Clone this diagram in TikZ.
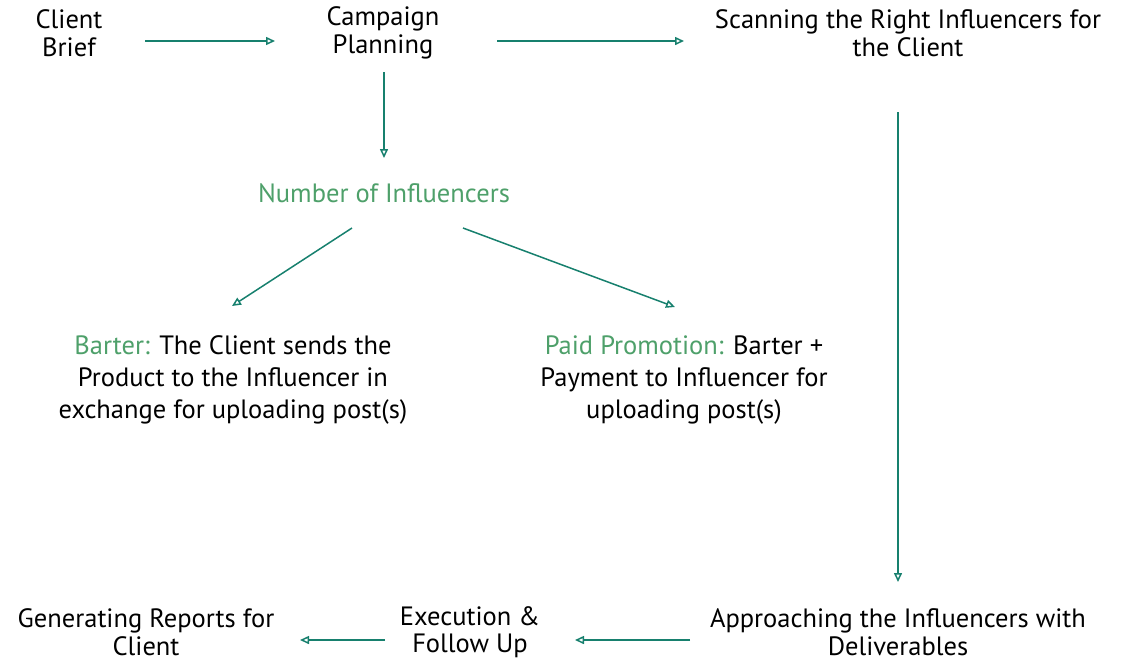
\documentclass[tikz,border=0pt]{standalone}
\usepackage{fontspec}
\setmainfont{PT Sans}
\usetikzlibrary{arrows.meta,calc}
\definecolor{arrowc}{HTML}{17806E}
\definecolor{greent}{HTML}{4EA06A}
\tikzset{
  lbl/.style={align=center, inner sep=0pt, font=\fontsize{26.5}{27.5}\selectfont, text=black},
  lblwide/.style={lbl, font=\fontsize{26.5}{32}\selectfont},
  conn/.style={draw=arrowc, line width=1.5pt, -{Triangle[open, length=9pt, width=8pt]}},
}
\begin{document}
\begin{tikzpicture}[x=1pt,y=-1pt]
\useasboundingbox (0,0) rectangle (1122,665);
\node[lbl] (cb) at (69,33) {Client\\Brief};
\node[lbl] (cp) at (383,33) {Campaign\\Planning};
\node[lbl] (sc) at (908,33) {Scanning the Right Influencers for\\the Client};
\node[lbl, text=greent] (ni) at (384,193) {Number of Influencers};
\node[lblwide] (ba) at (233,380) {\textcolor{greent}{Barter:} The Client sends the\\Product to the Influencer in\\exchange for uploading post(s)};
\node[lblwide] (pp) at (684,380) {\textcolor{greent}{Paid Promotion:} Barter +\\Payment to Influencer for\\uploading post(s)};
\node[lbl] (ap) at (898,632) {Approaching the Influencers with\\Deliverables};
\node[lbl] (ex) at (470,632) {Execution \&\\Follow Up};
\node[lbl] (ge) at (146,632) {Generating Reports for\\Client};

\draw[conn] ($(cb)+(76,8)$) -- ($(cp)+(-108,8)$);
\draw[conn] ($(cp)+(114,8)$) -- ($(sc)+(-224,8)$);
\draw[conn] ($(cp)+(1,39)$) -- ($(ni)+(0,-35)$);
\draw[conn] ($(ni)+(-32,35)$) -- ($(ba)+(-1,-74)$);
\draw[conn] ($(ni)+(79,35)$) -- ($(pp)+(-9,-73)$);
\draw[conn] ($(sc)+(-10,79)$) -- ($(ap)+(0,-50)$);
\draw[conn] ($(ap)+(-208,8)$) -- ($(ex)+(105,8)$);
\draw[conn] ($(ex)+(-85,8)$) -- ($(ge)+(154,8)$);
\end{tikzpicture}
\end{document}
